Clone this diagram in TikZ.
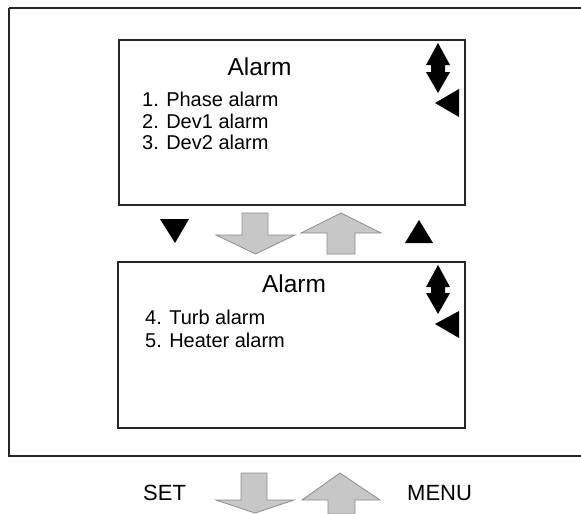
\documentclass[tikz,border=0pt]{standalone}
\usepackage{fontspec}
\setmainfont{Liberation Sans}
\begin{document}
\begin{tikzpicture}[x=1pt,y=-1pt,
  frame/.style={draw=black!85, line width=2pt},
  title/.style={inner sep=0pt, anchor=base, font=\fontsize{24.5}{24.5}\selectfont},
  item/.style={inner sep=0pt, anchor=base west, font=\fontsize{20}{20}\selectfont},
  key/.style={inner sep=0pt, anchor=base west, font=\fontsize{22}{22}\selectfont},
  blk/.style={fill=black, draw=none},
  grayarrow/.style={fill=black!22, draw=black!45, line width=0.8pt, line join=miter}]
\useasboundingbox (0,0) rectangle (581,514);
\begin{scope}
\clip (0,0) rectangle (581,514);
% outer frame
\draw[frame] (9,8) -- (590,8) (9,8) -- (9,456) -- (590,456);
% screens
\draw[frame] (119,40) rectangle (465,205);
\draw[frame] (118,262) rectangle (465,428);
% top screen content
\node[title] (t1) at (259.5,75) {Alarm};
\node[item] (a1) at (142,106) {1. Phase alarm};
\node[item] (a2) at (142,128) {2. Dev1 alarm};
\node[item] (a3) at (142,149) {3. Dev2 alarm};
\fill[blk] (438,43) -- (450,65) -- (445,65) -- (445,72) -- (450,72) -- (438,93) -- (426,72) -- (431,72) -- (431,65) -- (426,65) -- cycle;
\fill[blk] (435,103) -- (459,89) -- (459,117) -- cycle;
% bottom screen content
\node[title] (t2) at (294,292) {Alarm};
\node[item] (b1) at (145,324) {4. Turb alarm};
\node[item] (b2) at (145,347) {5. Heater alarm};
\fill[blk] (438,265) -- (450,287) -- (445,287) -- (445,293) -- (450,293) -- (438,314) -- (426,293) -- (431,293) -- (431,287) -- (426,287) -- cycle;
\fill[blk] (435,324) -- (459,311) -- (459,338) -- cycle;
% middle arrows
\fill[blk] (160,219) -- (189,219) -- (175,243) -- cycle;
\fill[blk] (405,243) -- (433,243) -- (419,220) -- cycle;
\draw[grayarrow] (242,213) -- (268,213) -- (268,235) -- (295,235) -- (255.5,254) -- (216,235) -- (242,235) -- cycle;
\draw[grayarrow] (341,213) -- (381,233) -- (355,233) -- (355,254) -- (327,254) -- (327,233) -- (301,233) -- cycle;
% bottom keys
\node[key] (set) at (143,500) {SET};
\node[key] (menu) at (407,500) {MENU};
\draw[grayarrow] (241,473) -- (267,473) -- (267,500) -- (294,500) -- (255,513) -- (216,500) -- (241,500) -- cycle;
\draw[grayarrow] (340,473) -- (380,500) -- (355,500) -- (355,514) -- (328,514) -- (328,500) -- (302,500) -- cycle;
\end{scope}
\end{tikzpicture}
\end{document}
